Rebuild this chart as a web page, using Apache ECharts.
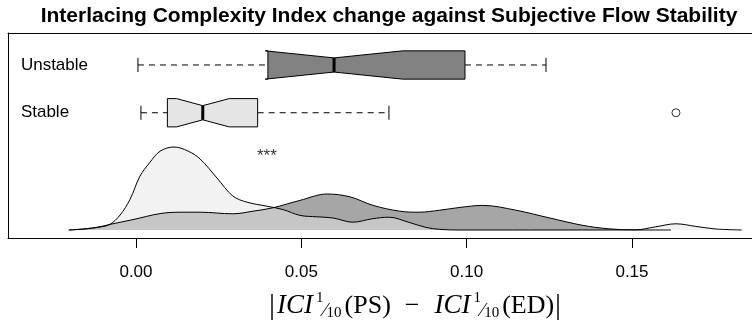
<!DOCTYPE html>
<html>
<head>
<meta charset="utf-8">
<script src="https://cdn.jsdelivr.net/npm/echarts@6/dist/echarts.min.js"></script>
<style>
html, body { margin: 0; padding: 0; background: #fff; }
#main { width: 752px; height: 329px; }
</style>
</head>
<body>
<div id="main"></div>
<script>
// groups, top to bottom
var groups = ['Unstable', 'Stable'];
// [whiskerLow, q1, median, q3, whiskerHigh, notchLow, notchHigh]
var unstableStats = [0.0006, 0.0399, 0.0599, 0.0995, 0.1240, 0.0391, 0.0807];
var stableStats = [0.0015, 0.0095, 0.0202, 0.0368, 0.0765, 0.0123, 0.0282];
var stableOutliers = [0.1633];
var xTicks = [0, 0.05, 0.10, 0.15];

// kernel densities [x, density]
var unstableDensity = [
    [-0.0203, 0], [-0.0154, 0.6], [-0.0109, 1.6], [-0.0079, 2.8], [-0.0009, 5.2],
    [0.0073, 8.2], [0.0133, 8.9], [0.0194, 8.9], [0.0293, 8.1], [0.0354, 9.4],
    [0.0414, 11.1], [0.0496, 14.8], [0.0578, 18], [0.0647, 16.6], [0.0717, 12.3],
    [0.0798, 9.4], [0.0856, 8.9], [0.0919, 9.9], [0.098, 11.3], [0.1049, 12.3],
    [0.1149, 9.9], [0.1249, 6.1], [0.1352, 2.3], [0.143, 0.6], [0.1512, 0], [0.1618, 0]
];
var stableDensity = [
    [-0.0203, 0], [-0.0154, 0.5], [-0.0109, 1.5], [-0.0079, 2.8], [-0.0048, 7.5],
    [-0.0018, 15.3], [0.0012, 26.9], [0.0042, 33.8], [0.0073, 39.4], [0.0115, 41.5],
    [0.0157, 39.5], [0.0194, 35.5], [0.0245, 26], [0.0293, 17], [0.0336, 13.9],
    [0.0396, 11.9], [0.0445, 10.2], [0.0496, 7.3], [0.0547, 6.6], [0.0596, 6],
    [0.0656, 3.9], [0.0714, 5.6], [0.0765, 6.4], [0.0826, 3.8], [0.0877, 1.3],
    [0.0919, 0.3], [0.0977, 0], [0.1403, 0], [0.1512, 0.1], [0.1572, 1.6],
    [0.1633, 3.1], [0.1693, 1.8], [0.1754, 0.5], [0.1832, 0]
];

// layout on the hidden 0..1 row axis
var rowPos = [0.844, 0.611];
var boxHalf = 0.069;
var labelX = -0.0348;
var starsAt = [0.0396, 0.40];
var boxFill = ['#828282', '#e5e5e5'];
var X_MIN = -0.0387, X_MAX = 0.1863;

var myChart = echarts.init(document.getElementById('main'));

var boxData = [
    [rowPos[0]].concat(unstableStats),
    [rowPos[1]].concat(stableStats)
];

function renderBox(params, api) {
    var i = params.dataIndex;
    var pos = api.value(0);
    var wlo = api.value(1), q1 = api.value(2), med = api.value(3), q3 = api.value(4),
        whi = api.value(5), nlo = api.value(6), nhi = api.value(7);
    var top = pos + boxHalf, bot = pos - boxHalf;
    var mt = pos + boxHalf / 2, mb = pos - boxHalf / 2;
    function c(x, y) { return api.coord([x, y]); }
    function seg(x1, y1, x2, y2, style) {
        var a = c(x1, y1), b = c(x2, y2);
        return { type: 'line', shape: { x1: a[0], y1: a[1], x2: b[0], y2: b[1] }, style: style };
    }
    var dash = { stroke: '#000', lineWidth: 1, lineDash: [6, 5] };
    var solid = { stroke: '#000', lineWidth: 1 };
    var children = [
        seg(wlo, pos, q1, pos, dash),
        seg(q3, pos, whi, pos, dash),
        seg(wlo, mt, wlo, mb, solid),
        seg(whi, mt, whi, mb, solid),
        {
            type: 'polygon',
            shape: { points: [c(q1, top), c(nlo, top), c(med, mt), c(nhi, top), c(q3, top),
                              c(q3, bot), c(nhi, bot), c(med, mb), c(nlo, bot), c(q1, bot)] },
            style: { fill: boxFill[i], stroke: '#000', lineWidth: 1 }
        },
        seg(med, mt, med, mb, { stroke: '#000', lineWidth: 3 })
    ];
    var lp = c(labelX, pos);
    children.push({
        type: 'text', x: lp[0], y: lp[1],
        style: { text: groups[i], fill: '#000', font: '17px "Liberation Sans", Arial, sans-serif', textAlign: 'left', textVerticalAlign: 'middle' }
    });
    return { type: 'group', children: children };
}

var serif = 'Liberation Serif';
var mathRich = {
    bar: { fontFamily: serif, fontWeight: 'normal', fontSize: 30, lineHeight: 30, color: '#000' },
    it: { fontFamily: serif, fontWeight: 'normal', fontStyle: 'italic', fontSize: 27, lineHeight: 30, color: '#000', padding: [0, 3, 0, 2] },
    rm: { fontFamily: serif, fontWeight: 'normal', fontSize: 26, lineHeight: 30, color: '#000', padding: [0, 1, 0, 0] },
    op: { fontFamily: serif, fontWeight: 'normal', fontSize: 26, lineHeight: 30, color: '#000', padding: [0, 13, 0, 13] },
    num: { fontFamily: serif, fontWeight: 'normal', fontSize: 15, lineHeight: 24, verticalAlign: 'top', color: '#000' },
    sl: { fontFamily: serif, fontWeight: 'normal', fontSize: 19, lineHeight: 26, verticalAlign: 'bottom', color: '#000' },
    den: { fontFamily: serif, fontWeight: 'normal', fontSize: 15, lineHeight: 15, verticalAlign: 'bottom', color: '#000', padding: [0, 3, 0, 0] }
};

var option = {
    animation: false,
    title: [
        {
            text: 'Interlacing Complexity Index change against Subjective Flow Stability',
            left: 384,
            top: 1,
            textAlign: 'center',
            textStyle: { fontFamily: 'Liberation Sans', fontWeight: 'bold', fontSize: 21, color: '#000' }
        },
        {
            text: '{bar||}{it|ICI}{num|1}{sl|⁄}{den|10}{rm|(PS)}{op|−}{it|ICI}{num|1}{sl|⁄}{den|10}{rm|(ED)}{bar||}',
            left: 410,
            top: 286,
            textAlign: 'center',
            textStyle: { fontWeight: 'normal', rich: mathRich }
        }
    ],
    grid: { left: 8, top: 33, right: 0, height: 205, show: false },
    xAxis: [
        {
            type: 'value',
            min: X_MIN,
            max: X_MAX,
            axisLine: { show: true, onZero: false, lineStyle: { color: '#000', width: 1 } },
            axisTick: { show: true, length: 10, customValues: xTicks, lineStyle: { color: '#000' } },
            axisLabel: {
                customValues: xTicks, margin: 26, color: '#000', fontSize: 17, fontFamily: 'Liberation Sans',
                formatter: function (v) { return v.toFixed(2); }
            },
            splitLine: { show: false }
        },
        {
            type: 'value',
            position: 'top',
            min: X_MIN,
            max: X_MAX,
            axisLine: { show: true, onZero: false, lineStyle: { color: '#000', width: 1 } },
            axisTick: { show: false },
            axisLabel: { show: false },
            splitLine: { show: false }
        }
    ],
    yAxis: [
        {
            type: 'value', min: -4, max: 98.5,
            axisLine: { show: true, onZero: false, lineStyle: { color: '#000', width: 1 } },
            axisTick: { show: false },
            axisLabel: { show: false },
            splitLine: { show: false }
        },
        { type: 'value', min: 0, max: 1, show: false }
    ],
    series: [
        {
            name: 'Unstable density',
            type: 'line',
            yAxisIndex: 0,
            data: unstableDensity,
            smooth: 0.35,
            showSymbol: false,
            lineStyle: { color: '#000', width: 1 },
            areaStyle: { color: 'rgba(128,128,128,0.7)', opacity: 1 }
        },
        {
            name: 'Stable density',
            type: 'line',
            yAxisIndex: 0,
            data: stableDensity,
            smooth: 0.35,
            showSymbol: false,
            lineStyle: { color: '#000', width: 1 },
            areaStyle: { color: 'rgba(229,229,229,0.5)', opacity: 1 }
        },
        {
            type: 'custom',
            yAxisIndex: 1,
            renderItem: renderBox,
            encode: { x: [1, 2, 3, 4, 5], y: 0 },
            data: boxData,
            z: 5
        },
        {
            type: 'scatter',
            yAxisIndex: 1,
            symbol: 'circle',
            symbolSize: 8,
            itemStyle: { color: '#fff', borderColor: '#000', borderWidth: 1 },
            data: stableOutliers.map(function (v) { return [v, rowPos[1]]; }),
            z: 6
        },
        {
            type: 'scatter',
            yAxisIndex: 1,
            symbolSize: 0,
            data: [starsAt],
            label: { show: true, position: 'inside', formatter: '***', color: '#000', fontSize: 17, fontFamily: 'Liberation Sans' },
            z: 6
        }
    ]
};

myChart.setOption(option);
</script>
</body>
</html>
